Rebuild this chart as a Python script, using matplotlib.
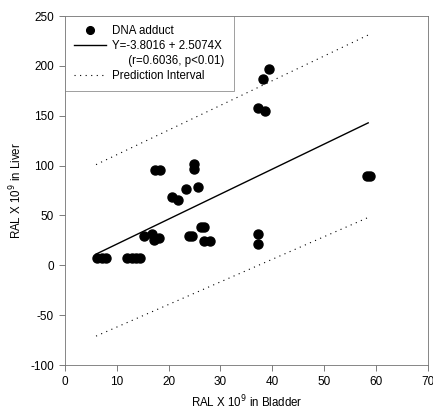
import numpy as np
import matplotlib
matplotlib.use('Agg')
import matplotlib.pyplot as plt

plt.rcParams['font.family'] = ['Liberation Sans', 'DejaVu Sans']
plt.rcParams['axes.unicode_minus'] = False

# values
bladder = [6.1, 7.1, 8.0, 11.9, 12.9, 13.8, 14.5, 15.3, 16.7, 17.2, 18.1,
           17.4, 18.3, 20.6, 21.8, 23.3, 24.8, 24.8, 25.6, 23.9, 24.5,
           26.2, 26.9, 26.8, 28.0, 37.3, 37.3, 37.3, 38.5, 38.3, 39.4,
           58.2, 58.8]
liver = [7, 7, 7, 7, 7, 7, 7, 29, 31, 25, 27,
         96, 96, 69, 66, 77, 102, 97, 79, 29, 29,
         38, 38, 24, 24, 31, 21, 158, 155, 187, 197,
         90, 90]

intercept, slope = -3.8016, 2.5074
fit_x = [6.0, 58.5]
pi_x = [6.0, 58.5]
pi_upper = [101, 231]
pi_lower = [-71, 48]

fig = plt.figure(figsize=(4.33, 4.12), dpi=100)
ax = fig.add_axes([0.150, 0.114, 0.838, 0.847])

ax.plot(bladder, liver, 'o', color='black', ms=6.5, mec='black',
        label='DNA adduct', zorder=3)
fx = np.array(fit_x)
ax.plot(fx, intercept + slope*fx, '-', color='black', lw=1.0,
        label='Y=-3.8016 + 2.5074X')
ax.plot([], [], ' ', label='     (r=0.6036, p<0.01)')
ax.plot(pi_x, pi_upper, color='black', lw=0.8, ls=(0, (1, 4)),
        label='Prediction Interval')
ax.plot(pi_x, pi_lower, color='black', lw=0.8, ls=(0, (1, 4)))

ax.set_xlim(0, 70)
ax.set_ylim(-100, 250)
ax.set_xticks(range(0, 71, 10))
ax.set_yticks(range(-100, 251, 50))
ax.tick_params(direction='out', length=4, width=0.6, color='0.4',
               labelsize=8.5, pad=4)
for s in ax.spines.values():
    s.set_linewidth(0.6)
    s.set_color('0.45')

ax.set_xlabel('RAL X 10$^9$ in Bladder', fontsize=8.3, labelpad=4)
ax.set_ylabel('RAL X 10$^9$ in Liver', fontsize=8.3, labelpad=4)

leg = ax.legend(loc='upper left', bbox_to_anchor=(0, 1), borderaxespad=0,
                fontsize=8.3, frameon=True, fancybox=False,
                labelspacing=0.25, handlelength=2.8, handletextpad=0.5,
                borderpad=0.8, markerscale=0.85)
leg.get_frame().set_edgecolor('0.45')
leg.get_frame().set_linewidth(0.6)

fig.savefig('out.png', dpi=100)
